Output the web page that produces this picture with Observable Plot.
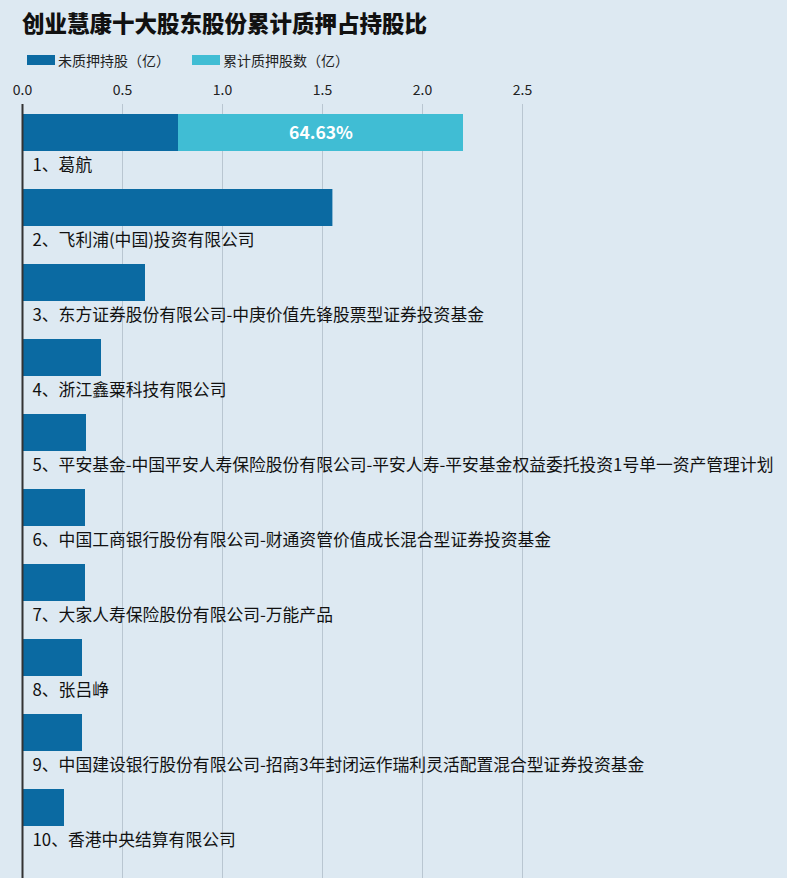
<!DOCTYPE html>
<html><head><meta charset="utf-8">
<script src="https://cdn.jsdelivr.net/npm/d3@7"></script>
<script src="https://cdn.jsdelivr.net/npm/@observablehq/plot@0.6"></script>
<style>
body{margin:0;background:#dde9f2;font-family:"Noto Sans CJK SC","Noto Sans",sans-serif;}
#wrap{position:relative;width:787px;height:878px;overflow:hidden;background:#dde9f2;}
#title{position:absolute;left:22px;top:6px;font-size:22.5px;font-weight:900;color:#111;}
#legend{position:absolute;left:27px;top:50px;font-size:14px;color:#222;display:flex;align-items:center;}
.sw{display:inline-block;width:28px;height:10px;margin-right:3px;}
#chart{position:absolute;left:0;top:80px;}
#chart svg{display:block;}
</style></head>
<body><div id="wrap">
<div id="title">创业慧康十大股东股份累计质押占持股比</div>
<div id="legend"><span class="sw" style="background:#0b6aa2"></span><span>未质押持股（亿）</span><span class="sw" style="background:#40bdd4;margin-left:22px"></span><span>累计质押股数（亿）</span></div>
<div id="chart"></div>
</div>
<script>
const names = ["1、葛航","2、飞利浦(中国)投资有限公司","3、东方证券股份有限公司-中庚价值先锋股票型证券投资基金","4、浙江鑫粟科技有限公司","5、平安基金-中国平安人寿保险股份有限公司-平安人寿-平安基金权益委托投资1号单一资产管理计划","6、中国工商银行股份有限公司-财通资管价值成长混合型证券投资基金","7、大家人寿保险股份有限公司-万能产品","8、张吕峥","9、中国建设银行股份有限公司-招商3年封闭运作瑞利灵活配置混合型证券投资基金","10、香港中央结算有限公司"];
const unpledged = [0.78,1.552,0.615,0.395,0.32,0.315,0.315,0.30,0.30,0.21];
const pledged = [1.425,0,0,0,0,0,0,0,0,0];
const pctLabels = ["64.63%","","","","","","","","",""];
const xTicks = [0,0.5,1,1.5,2,2.5];
const seriesNames = ["未质押持股（亿）","累计质押股数（亿）"];

const rows = [];
names.forEach((n,i)=>{
  rows.push({name:n, series:seriesNames[0], v:unpledged[i], x1:0, x2:unpledged[i]});
  if (pledged[i]>0) rows.push({name:n, series:seriesNames[1], v:pledged[i], x1:unpledged[i], x2:unpledged[i]+pledged[i], label:pctLabels[i]});
});

const plot = Plot.plot({
  width: 787, height: 798,
  marginTop: 24, marginBottom: 0, marginLeft: 22, marginRight: 0,
  style: {background:"transparent", fontFamily:"'Noto Sans CJK SC','Noto Sans',sans-serif"},
  x: {domain:[0,2.5], range:[22,522], clamp:false},
  y: {domain:names, range:[32, 32+10*75.45], paddingInner:0, paddingOuter:0, axis:null},
  color: {domain:seriesNames, range:["#0b6aa2","#40bdd4"]},
  marks: [
    Plot.gridX(xTicks, {stroke:"#b9c6d1", strokeOpacity:1, strokeWidth:1}),
    Plot.axisX(xTicks, {anchor:"top", tickSize:0, tickPadding:6, fontSize:14, fill:"#222", label:null, tickFormat:d=>d.toFixed(1), dy:-4}),
    Plot.barX(rows, {y:"name", x1:"x1", x2:"x2", fill:"series", insetTop:0, insetBottom:38}),
    Plot.text(rows.filter(r=>r.label), {y:"name", x:r=>(r.x1+r.x2)/2, text:"label", fill:"white", fontSize:17.5, fontWeight:"bold", dy:-19}),
    Plot.text(names, {y:d=>d, x:0, text:d=>d, textAnchor:"start", dx:10, dy:14, fontSize:16.8, fill:"#111"}),
    Plot.ruleX([0], {stroke:"#333", strokeWidth:2})
  ]
});
document.getElementById("chart").appendChild(plot);
</script>
</body></html>
